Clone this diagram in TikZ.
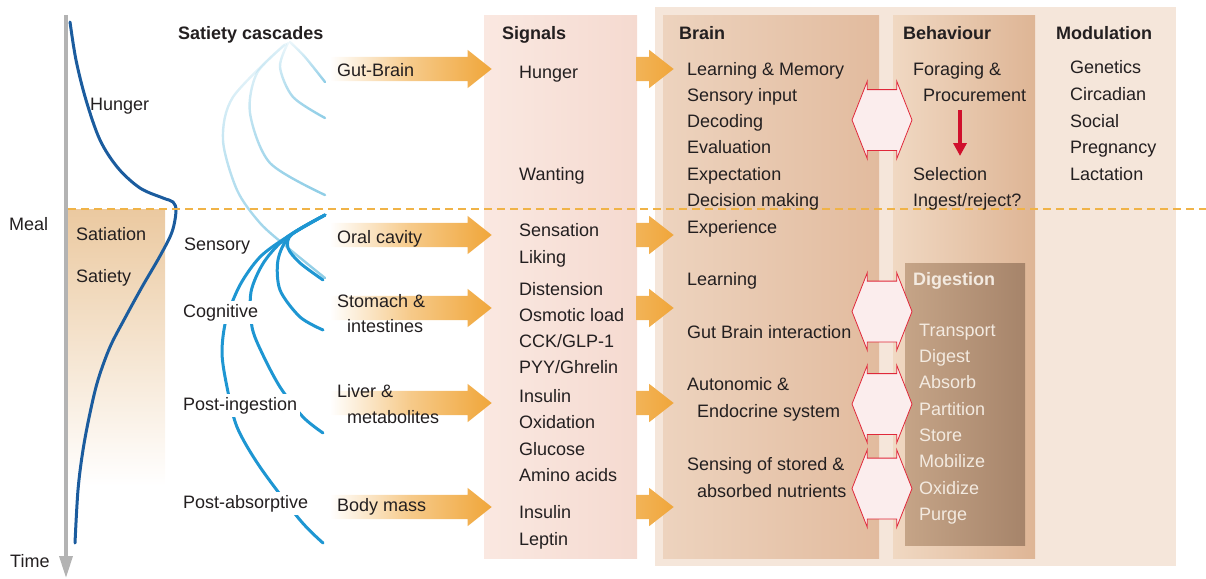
\documentclass[tikz,border=0pt]{standalone}
\usepackage{fontspec}
\setmainfont{Liberation Sans}
\usetikzlibrary{shapes.arrows, arrows.meta, fadings}
\definecolor{txt}{HTML}{231F20}
\definecolor{org}{HTML}{F0A63A}
\definecolor{outerc}{HTML}{F5E6DA}
\definecolor{sigL}{HTML}{FAE8E1}
\definecolor{sigR}{HTML}{F5DAD0}
\definecolor{brainL}{HTML}{EDD3BE}
\definecolor{brainR}{HTML}{E2BB9E}
\definecolor{behL}{HTML}{F0D8C2}
\definecolor{behR}{HTML}{DEB595}
\definecolor{digL}{HTML}{C5A487}
\definecolor{digR}{HTML}{A6846A}
\definecolor{satc}{HTML}{EBC9A0}
\definecolor{hungc}{HTML}{1B5C9E}
\definecolor{dcasc}{HTML}{1E96D2}
\definecolor{lcasc}{HTML}{8ECDE6}
\definecolor{dashc}{HTML}{F0B347}
\definecolor{redc}{HTML}{E0283A}
\definecolor{pinkc}{HTML}{FBEDED}
\definecolor{redarr}{HTML}{D0102C}
\definecolor{axisc}{HTML}{B3B3B3}
\definecolor{digtxt}{HTML}{F3EAE0}
\tikzfading[name=fadeup, top color=transparent!85, bottom color=transparent!0]
\begin{document}
\begin{tikzpicture}[x=1pt,y=-1pt,
  lbl/.style={font=\fontsize{18}{22}\selectfont, text=txt, inner sep=0pt, anchor=base west},
  hdr/.style={lbl, font=\fontsize{18}{22}\selectfont\bfseries},
  lblw/.style={lbl, fill=white, inner sep=3pt},
  dig/.style={lbl, text=digtxt},
  box/.style={anchor=north west, inner sep=0pt, draw=none},
  bigarrow/.style={single arrow, anchor=tip, inner xsep=0pt, inner ysep=12pt, single arrow head extend=7pt,
     single arrow tip angle=77, minimum height=162pt,
     left color=white, right color=org, middle color=org!60},
  smallarrow/.style={single arrow, anchor=tip, inner xsep=0pt, inner ysep=12pt, single arrow head extend=7pt,
     single arrow tip angle=76, minimum height=37pt, left color=org!85, right color=org},
  dblarrow/.style={double arrow, draw=redc, line width=0.8pt, fill=pinkc,
     inner xsep=0pt, inner ysep=30pt, double arrow head extend=8.5pt, double arrow tip angle=137,
     minimum height=60pt},
  dcurve/.style={draw=dcasc, line width=3pt, line cap=round},
  lcurve/.style={draw=lcasc, line width=2.4pt, line cap=round, path fading=fadeup},
]
\useasboundingbox (0,0) rectangle (1206,578);

% ---------- boxes ----------
\node[box, fill=outerc, minimum width=521pt, minimum height=559pt] (outer) at (655,7) {};
\node[box, left color=sigL, right color=sigR, minimum width=153pt, minimum height=543pt] (sigbox) at (484,15) {};
\node[box, left color=brainL, right color=brainR, minimum width=216pt, minimum height=543pt] (brainbox) at (663,15) {};
\node[box, left color=behL, right color=behR, minimum width=142pt, minimum height=543pt] (behbox) at (893,15) {};
\node[box, left color=digL, right color=digR, minimum width=120pt, minimum height=282pt] (digbox) at (905,263) {};
\node[box, top color=satc, bottom color=white, minimum width=97pt, minimum height=277pt] (satbox) at (68,209) {};

% ---------- time axis and hunger curve ----------
\coordinate (ax0) at (66,15);
\coordinate (ax1) at (66,578);
\draw[axisc, line width=3.5pt, -{Triangle[width=13pt,length=22pt]}] (ax0) -- (ax1);
\draw[hungc, line width=3pt, line cap=round] plot[smooth, tension=0.55] coordinates {
 (70,22) (76,60) (86,100) (100,140) (118,168) (140,188) (163,198) (173,202) (176,211)
 (172,232) (160,256) (142,287) (125,318) (110,347) (98,380) (90,413) (83,450) (78,490) (75,543)};

% ---------- cascades ----------
\draw[lcurve] plot[smooth] coordinates {(290,42) (305,57) (325,82)};
\draw[lcurve] plot[smooth] coordinates {(288,43) (280,67) (293,97) (325,118)};
\draw[lcurve] plot[smooth] coordinates {(286,44) (257,73) (250,113) (270,163) (325,195)};
\draw[lcurve] plot[smooth] coordinates {(284,45) (233,97) (223,140) (237,190) (260,223) (287,247) (325,278)};
\draw[dcurve] plot[smooth] coordinates {(325,215) (287,237) (260,257) (240,285) (226,320) (222,353) (227,387) (237,427) (260,467) (300,520) (323,543)};
\draw[dcurve] plot[smooth] coordinates {(325,215) (287,237) (264,262) (251,292) (252,327) (262,353) (280,387) (303,417) (323,433)};
\draw[dcurve] plot[smooth] coordinates {(325,215) (290,236) (278,260) (280,290) (300,317) (323,330)};
\draw[dcurve] plot[smooth] coordinates {(325,215) (292,234) (288,248) (300,263) (323,280)};

% ---------- meal line ----------
\coordinate (m0) at (68,209);
\coordinate (m1) at (1206,209);
\draw[dashc, line width=1.8pt, dash pattern=on 8pt off 5pt] (m0) -- (m1);

% ---------- orange arrows ----------
\foreach \yy/\n in {69/1,235/2,308/3,403/4,507/5}{
  \node[bigarrow] (ba\n) at (492,\yy) {};
  \node[smallarrow] (sa\n) at (674,\yy) {};
}

% ---------- red double arrows ----------
\node[dblarrow] (da1) at (882,120) {};
\node[dblarrow] (da2) at (882,311.5) {};
\node[dblarrow] (da3) at (882,404) {};
\node[dblarrow] (da4) at (882,488.5) {};

% ---------- left labels ----------
\node[lbl] (meal) at (9,230) {Meal};
\node[lbl] (time) at (10,567) {Time};
\node[lbl] (hunger) at (90,110) {Hunger};
\node[lbl] (satiation) at (76,240) {Satiation};
\node[lbl] (satiety) at (76,282) {Satiety};
\node[hdr] (casc) at (178,40) {Satiety cascades};
\node[lblw] (sens) at (181,250) {Sensory};
\node[lblw] (cogn) at (180,317) {Cognitive};
\node[lblw] (posti) at (180,410) {Post-ingestion};
\node[lblw] (posta) at (180,508) {Post-absorptive};

\node[lbl] (gb) at (337,77) {Gut-Brain};
\node[lbl] (oral) at (337,243) {Oral cavity};
\node[lbl] (stom) at (337,307) {Stomach \&};
\node[lbl] (intest) at (347,332) {intestines};
\node[lbl] (liver) at (337,397) {Liver \&};
\node[lbl] (metab) at (347,423) {metabolites};
\node[lbl] (bmass) at (337,511) {Body mass};

% ---------- signals ----------
\node[hdr] (sighdr) at (502,40) {Signals};
\node[lbl] (s1) at (519,78) {Hunger};
\node[lbl] (s2) at (519,180) {Wanting};
\node[lbl] (s3) at (519,236) {Sensation};
\node[lbl] (s4) at (519,263) {Liking};
\node[lbl] (s5) at (519,295) {Distension};
\node[lbl] (s6) at (519,321) {Osmotic load};
\node[lbl] (s7) at (519,347) {CCK/GLP-1};
\node[lbl] (s8) at (519,373) {PYY/Ghrelin};
\node[lbl] (s9) at (519,402) {Insulin};
\node[lbl] (s10) at (519,428) {Oxidation};
\node[lbl] (s11) at (519,455) {Glucose};
\node[lbl] (s12) at (519,481) {Amino acids};
\node[lbl] (s13) at (519,518) {Insulin};
\node[lbl] (s14) at (519,545) {Leptin};

% ---------- brain ----------
\node[hdr] (brhdr) at (679,40) {Brain};
\node[lbl] (b1) at (687,75) {Learning \& Memory};
\node[lbl] (b2) at (687,101) {Sensory input};
\node[lbl] (b3) at (687,127) {Decoding};
\node[lbl] (b4) at (687,153) {Evaluation};
\node[lbl] (b5) at (687,180) {Expectation};
\node[lbl] (b6) at (687,206) {Decision making};
\node[lbl] (b7) at (687,233) {Experience};
\node[lbl] (b8) at (687,285) {Learning};
\node[lbl] (b9) at (687,338) {Gut Brain interaction};
\node[lbl] (b10) at (687,390) {Autonomic \&};
\node[lbl] (b11) at (697,417) {Endocrine system};
\node[lbl] (b12) at (687,470) {Sensing of stored \&};
\node[lbl] (b13) at (697,497) {absorbed nutrients};

% ---------- behaviour ----------
\node[hdr] (behhdr) at (903,40) {Behaviour};
\node[lbl] (f1) at (913,75) {Foraging \&};
\node[lbl] (f2) at (923,101) {Procurement};
\node[lbl] (f3) at (913,180) {Selection};
\node[lbl] (f4) at (913,206) {Ingest/reject?};
\coordinate (ra1) at (960,110);
\coordinate (ra2) at (960,156);
\draw[redarr, line width=4.5pt, -{Triangle[width=13pt,length=13pt]}] (ra1) -- (ra2);

% ---------- digestion ----------
\node[hdr, text=digtxt] (dighdr) at (913,285) {Digestion};
\node[dig] (d1) at (919,336) {Transport};
\node[dig] (d2) at (919,362) {Digest};
\node[dig] (d3) at (919,388) {Absorb};
\node[dig] (d4) at (919,415) {Partition};
\node[dig] (d5) at (919,441) {Store};
\node[dig] (d6) at (919,467) {Mobilize};
\node[dig] (d7) at (919,494) {Oxidize};
\node[dig] (d8) at (919,520) {Purge};

% ---------- modulation ----------
\node[hdr] (modhdr) at (1056,40) {Modulation};
\node[lbl] (g1) at (1070,74) {Genetics};
\node[lbl] (g2) at (1070,100) {Circadian};
\node[lbl] (g3) at (1070,127) {Social};
\node[lbl] (g4) at (1070,153) {Pregnancy};
\node[lbl] (g5) at (1070,180) {Lactation};
\end{tikzpicture}
\end{document}
